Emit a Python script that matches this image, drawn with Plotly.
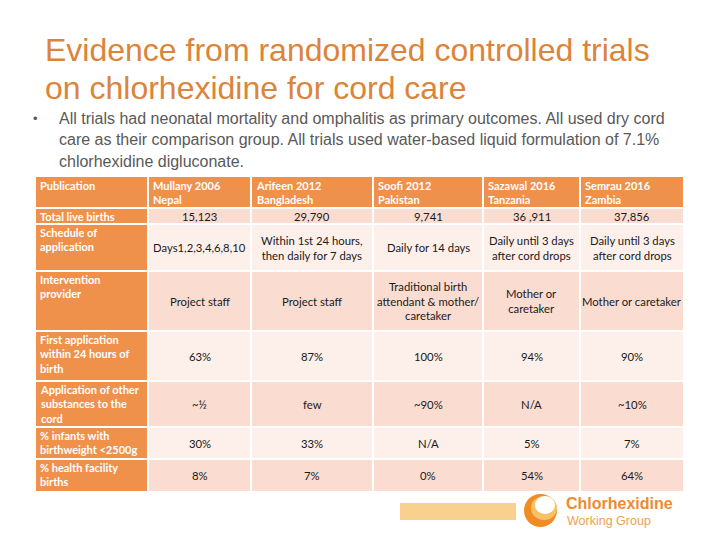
import plotly.graph_objects as go

# ---- data ----
title_lines = ["Evidence from randomized controlled trials", "on chlorhexidine for cord care"]
bullet_lines = [
    "All trials had neonatal mortality and omphalitis as primary outcomes. All used dry cord",
    "care as their comparison group. All trials used water-based liquid formulation of 7.1%",
    "chlorhexidine digluconate.",
]
header_corner = "Publication"
studies = ["Mullany 2006<br>Nepal", "Arifeen 2012<br>Bangladesh", "Soofi 2012<br>Pakistan",
           "Sazawal 2016<br>Tanzania", "Semrau 2016<br>Zambia"]
row_labels = ["Total live births", "Schedule of<br>application", "Intervention<br>provider",
              "First application<br>within 24 hours of<br>birth",
              "Application of other<br>substances to the<br>cord",
              "% infants with<br>birthweight &lt;2500g", "% health facility<br>births"]
mullany = ["15,123", "Days1,2,3,4,6,8,10", "Project staff", "63%", "~½", "30%", "8%"]
arifeen = ["29,790", "Within 1st 24 hours,<br>then daily for 7 days", "Project staff", "87%", "few", "33%", "7%"]
soofi = ["9,741", "Daily for 14 days", "Traditional birth<br>attendant &amp; mother/<br>caretaker", "100%", "~90%", "N/A", "0%"]
sazawal = ["36 ,911", "Daily until 3 days<br>after cord drops", "Mother or<br>caretaker", "94%", "N/A", "5%", "54%"]
semrau = ["37,856", "Daily until 3 days<br>after cord drops", "Mother or caretaker", "90%", "~10%", "7%", "64%"]
columns = [mullany, arifeen, soofi, sazawal, semrau]

# ---- layout constants ----
col_edges = [35, 148, 251, 373, 483, 580, 684]
row_edges = [176, 208, 224, 271, 331, 381, 427, 459, 492]
ORANGE = "#F0914B"
DARK = "#FADCD1"
LIGHT = "#FDEFEA"
TITLE_C = "#DB843A"
TXT_FONT = "Lato"
OFF = 8  # page body margin compensation

fig = go.Figure()
fig.add_trace(go.Scatter(x=[0, 720], y=[0, 540], mode="markers", marker=dict(opacity=0), hoverinfo="skip", showlegend=False))

shapes = []
ann = []

# title
for i, t in enumerate(title_lines):
    ann.append(dict(x=43, y=50 + i * 38, text=t, xanchor="left", yanchor="middle", showarrow=False,
                    font=dict(family="Liberation Sans", size=32, color=TITLE_C)))
# bullet
ann.append(dict(x=31, y=118, text="•", xanchor="left", yanchor="middle", showarrow=False,
                font=dict(family="Liberation Sans", size=13, color="#595959")))
for i, t in enumerate(bullet_lines):
    ann.append(dict(x=57, y=118 + i * 21.5, text=t, xanchor="left", yanchor="middle", showarrow=False,
                    font=dict(family="Liberation Sans", size=16, color="#595959")))

# table cells
nrows = len(row_labels) + 1
for r in range(nrows):
    y0, y1 = row_edges[r], row_edges[r + 1]
    for c in range(len(col_edges) - 1):
        x0, x1 = col_edges[c], col_edges[c + 1]
        if r == 0 or c == 0:
            fill = ORANGE
        else:
            fill = DARK if (r - 1) % 2 == 0 else LIGHT
        shapes.append(dict(type="rect", xref="x", yref="y", x0=x0, x1=x1, y0=y0, y1=y1,
                           fillcolor=fill, line=dict(color="white", width=2), layer="below"))
        if r == 0:
            text = header_corner if c == 0 else studies[c - 1]
            ann.append(dict(x=x0 + 3, y=y0 + 1, text="<b>" + text.replace("<br>", "</b><br><b>") + "</b>",
                            xanchor="left", yanchor="top", align="left",
                            showarrow=False, font=dict(family=TXT_FONT, size=11, color="white")))
        elif c == 0:
            ann.append(dict(x=x0 + 3, y=y0 + 0, text="<b>" + row_labels[r - 1].replace("<br>", "</b><br><b>") + "</b>",
                            xanchor="left", yanchor="top", align="left",
                            showarrow=False, font=dict(family=TXT_FONT, size=11, color="white")))
        else:
            ann.append(dict(x=(x0 + x1) / 2, y=(y0 + y1) / 2, text=columns[c - 1][r - 1], xanchor="center",
                            yanchor="middle", align="center", showarrow=False,
                            font=dict(family=TXT_FONT, size=11.3, color="#1a1a1a")))

# footer bar and logo
shapes.append(dict(type="rect", xref="x", yref="y", x0=400, x1=516, y0=503, y1=520,
                   fillcolor="#F9D08E", line=dict(width=0), layer="below"))
shapes.append(dict(type="circle", xref="x", yref="y", x0=524, x1=557, y0=494, y1=527,
                   fillcolor="#F08C22", line=dict(width=0)))
shapes.append(dict(type="circle", xref="x", yref="y", x0=531, x1=557, y0=496, y1=520,
                   fillcolor="#F8C068", line=dict(width=0)))
shapes.append(dict(type="circle", xref="x", yref="y", x0=535, x1=555, y0=496, y1=514,
                   fillcolor="#FFFFFF", line=dict(width=0)))
ann.append(dict(x=564, y=503, text="<b>Chlorhexidine</b>", xanchor="left", yanchor="middle", showarrow=False,
                font=dict(family="Liberation Sans", size=16, color="#EE8B30")))
ann.append(dict(x=565, y=521, text="Working Group", xanchor="left", yanchor="middle", showarrow=False,
                font=dict(family="Liberation Sans", size=12.5, color="#F0A052")))

fig.update_layout(
    width=720, height=540, margin=dict(l=0, r=0, t=0, b=0),
    paper_bgcolor="white", plot_bgcolor="white",
    xaxis=dict(range=[OFF, 720 + OFF], visible=False, fixedrange=True),
    yaxis=dict(range=[540 + OFF, OFF], visible=False, fixedrange=True),
    shapes=shapes, annotations=ann, showlegend=False,
)
fig.write_html("out.html")
